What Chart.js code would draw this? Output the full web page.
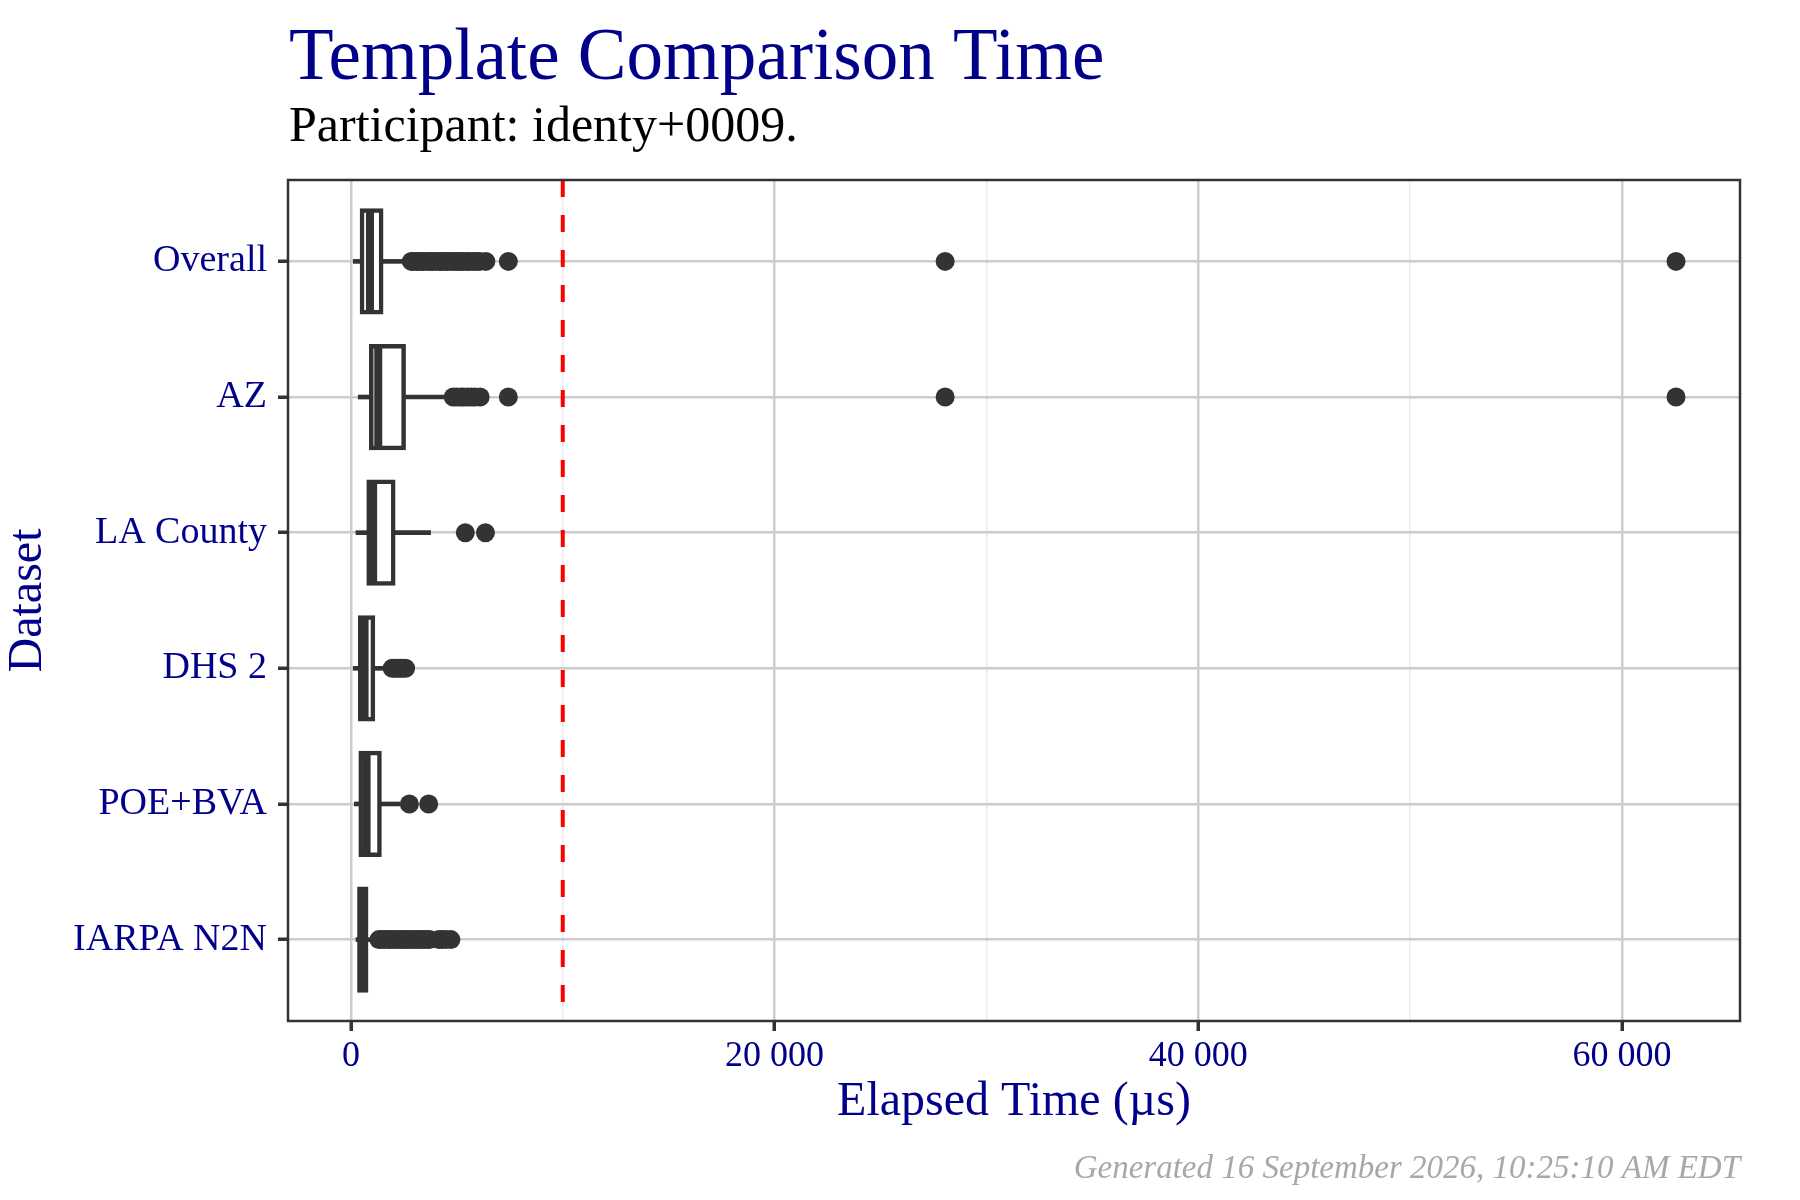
<!DOCTYPE html>
<html>
<head>
<meta charset="utf-8">
<title>Template Comparison Time</title>
<script src="https://cdn.jsdelivr.net/npm/chart.js@4.4.1/dist/chart.umd.min.js"></script>
<style>
  html, body { margin: 0; padding: 0; background: #ffffff; }
  #wrap { width: 1800px; height: 1200px; }
</style>
</head>
<body>
<div id="wrap"><canvas id="chart" width="1800" height="1200"></canvas></div>
<script>
/************ DATA ************/
const datasetNames = ["Overall", "AZ", "LA County", "DHS 2", "POE+BVA", "IARPA N2N"];

/* box stats, elapsed time in microseconds */
const whiskerLow  = [110, 345, 236, 110, 160, 240];
const q1          = [520, 960, 835, 440, 460, 400];
const medians     = [900, 1290, 1050, 645, 740, 560];
const q3          = [1430, 2490, 2000, 1040, 1350, 720];
const whiskerHigh = [2780, 4700, 3760, 1550, 2330, 1200];

/* outliers per dataset */
const outOverall = [2850, 2930, 3080, 3190, 3350, 3420, 3610, 3780, 3850, 4020, 4190, 4310,
                    4480, 4560, 4740, 4880, 5030, 5170, 5290, 5460, 5600, 5770, 5910, 6080,
                    6370, 7430, 28050, 62550];
const outAZ      = [4830, 4990, 5180, 5320, 5510, 5690, 5850, 6100, 7430, 28050, 62550];
const outLA      = [5400, 6350];
const outDHS2    = [1950, 2080, 2200, 2330, 2450, 2580];
const outPOE     = [2760, 3670];
const outIARPA   = [1320, 1450, 1600, 1780, 1890, 2050, 2210, 2360, 2480, 2650, 2800, 2940,
                    3100, 3270, 3400, 3560, 3710, 4150, 4300, 4480, 4720];
const outliers = [outOverall, outAZ, outLA, outDHS2, outPOE, outIARPA];

/* reference threshold (dashed red line) */
const threshold = 10000;

/* x axis */
const xMin = -2970;
const xMax = 65570;
const xMajorTicks = [0, 20000, 40000, 60000];
const xMinorTicks = [10000, 30000, 50000];

/* y axis (discrete, 1 = first dataset) */
const yMin = 0.4;
const yMax = 6.6;

/************ TEXT ************/
const titleText = "Template Comparison Time";
const subtitleText = "Participant: identy+0009.";
const captionText = "Generated 16 September 2026, 10:25:10 AM EDT";
const xTitle = "Elapsed Time (\u00b5s)";
const yTitle = "Dataset";

/************ STYLE ************/
const FONT = '"Liberation Serif", "Times New Roman", serif';
const NAVY = "#00008B";
const INK = "#333333";
const GRID_MAJOR = "#CCCCCC";
const GRID_MINOR = "#EBEBEB";

/************ BUILD ************/
const pos = datasetNames.map((_, i) => i + 1);
const boxData    = pos.map((y, i) => ({ y: y, x: [q1[i], q3[i]] }));
const lowData    = pos.map((y, i) => ({ y: y, x: [whiskerLow[i], q1[i]] }));
const highData   = pos.map((y, i) => ({ y: y, x: [q3[i], whiskerHigh[i]] }));
const medianData = pos.map((y, i) => ({ y: y, x: medians[i] }));
const outlierData = [];
outliers.forEach((list, i) => list.forEach(v => outlierData.push({ x: v, y: i + 1 })));

function spaced(v) {
  return String(v).replace(/\B(?=(\d{3})+(?!\d))/g, " ");
}
const isMajor = v => xMajorTicks.indexOf(v) !== -1;

/* panel border + title, subtitle and caption aligned to the panel */
const frameText = {
  id: "frameText",
  afterDraw(chart) {
    const { ctx, chartArea: a } = chart;
    ctx.save();
    ctx.strokeStyle = INK;
    ctx.lineWidth = 2.5;
    ctx.strokeRect(a.left, a.top, a.right - a.left, a.bottom - a.top);

    ctx.textBaseline = "alphabetic";
    ctx.textAlign = "left";
    ctx.fillStyle = NAVY;
    ctx.font = "73px " + FONT;
    ctx.fillText(titleText, a.left + 1, 79);

    ctx.fillStyle = "#000000";
    ctx.font = "50px " + FONT;
    ctx.fillText(subtitleText, a.left + 1, 141);

    ctx.textAlign = "right";
    ctx.fillStyle = "#A8A8A8";
    ctx.font = "italic 33px " + FONT;
    ctx.fillText(captionText, a.right, 1178);
    ctx.restore();
  }
};

/************ CHART ************/
const ctx = document.getElementById("chart").getContext("2d");

new Chart(ctx, {
  type: "bar",
  data: {
    datasets: [
      {
        type: "scatter",
        data: outlierData,
        pointRadius: 9.5,
        pointBackgroundColor: INK,
        pointBorderWidth: 0,
        order: 0
      },
      {
        type: "scatter",
        data: medianData,
        pointStyle: "line",
        rotation: 90,
        pointRadius: 52,
        pointBorderColor: INK,
        pointBorderWidth: 8,
        order: 1
      },
      {
        data: boxData,
        grouped: false,
        categoryPercentage: 1,
        barPercentage: 0.75,
        backgroundColor: "#FFFFFF",
        borderColor: INK,
        borderWidth: 4.5,
        inflateAmount: 2.25,
        borderSkipped: false,
        order: 2
      },
      {
        data: lowData,
        grouped: false,
        barThickness: 4,
        backgroundColor: INK,
        borderWidth: 0,
        order: 3
      },
      {
        data: highData,
        grouped: false,
        barThickness: 4,
        backgroundColor: INK,
        borderWidth: 0,
        order: 4
      },
      {
        type: "line",
        data: [{ x: threshold, y: yMin }, { x: threshold, y: yMax }],
        borderColor: "#FF0000",
        borderWidth: 4,
        borderDash: [17, 18],
        pointRadius: 0,
        order: 5
      }
    ]
  },
  options: {
    indexAxis: "y",
    responsive: false,
    animation: false,
    events: [],
    layout: { padding: { top: 180, right: 60, bottom: 69, left: 0 } },
    plugins: {
      legend: { display: false },
      tooltip: { enabled: false },
      title: { display: false }
    },
    scales: {
      x: {
        type: "linear",
        position: "bottom",
        min: xMin,
        max: xMax,
        afterBuildTicks: s => {
          s.ticks = xMajorTicks.concat(xMinorTicks)
            .sort((a, b) => a - b)
            .map(v => ({ value: v }));
        },
        afterFit: s => { s.height = 110; },
        border: { display: false },
        grid: {
          color: c => isMajor(c.tick.value) ? GRID_MAJOR : GRID_MINOR,
          lineWidth: c => isMajor(c.tick.value) ? 2.5 : 1.5,
          tickColor: c => isMajor(c.tick.value) ? INK : "rgba(0,0,0,0)",
          tickLength: 10,
          tickWidth: 3.5
        },
        ticks: {
          autoSkip: false,
          maxRotation: 0,
          padding: 4,
          color: NAVY,
          font: { family: FONT, size: 36 },
          callback: v => isMajor(v) ? spaced(v) : ""
        },
        title: {
          display: true,
          text: xTitle,
          color: NAVY,
          font: { family: FONT, size: 48 },
          padding: { top: 0, bottom: 0 }
        }
      },
      y: {
        type: "linear",
        position: "left",
        min: yMin,
        max: yMax,
        reverse: true,
        offset: false,
        afterBuildTicks: s => {
          s.ticks = pos.map(v => ({ value: v }));
        },
        afterFit: s => { s.width = 288; },
        border: { display: false },
        grid: {
          offset: false,
          color: GRID_MAJOR,
          lineWidth: 2.5,
          tickColor: INK,
          tickLength: 10,
          tickWidth: 3.5
        },
        ticks: {
          autoSkip: false,
          padding: 11,
          color: NAVY,
          font: { family: FONT, size: 38 },
          callback: v => datasetNames[v - 1] || ""
        },
        title: {
          display: true,
          text: yTitle,
          color: NAVY,
          font: { family: FONT, size: 48 },
          padding: { top: 0, bottom: 0 }
        }
      }
    }
  },
  plugins: [frameText]
});
</script>
</body>
</html>
